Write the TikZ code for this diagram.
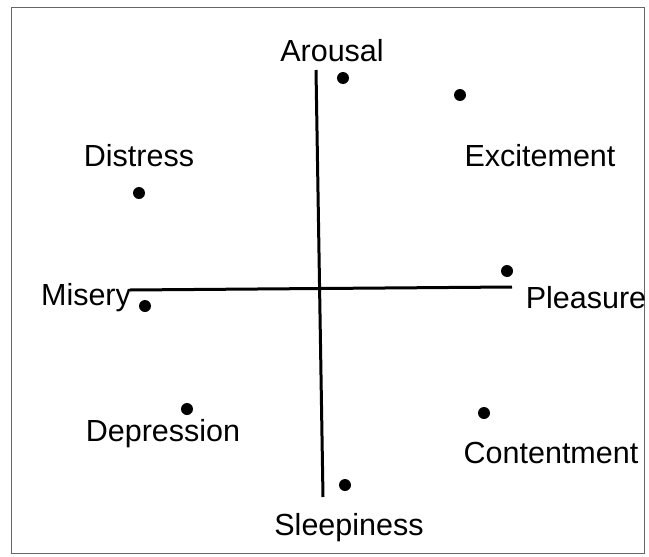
\documentclass[tikz,border=0pt]{standalone}
\usepackage{fontspec}
\setmainfont{Liberation Sans}
\begin{document}
\begin{tikzpicture}[
    x=1pt, y=-1pt,
    every node/.style={font=\fontsize{30.5}{36}\selectfont, inner sep=0pt, anchor=base},
    dot/.style={circle, fill=black, minimum size=12pt, inner sep=0pt, anchor=center},
    axis/.style={line width=3pt}
  ]
  \useasboundingbox (0,0) rectangle (649,557);
  \draw[black!60, line width=1pt] (11,7) rectangle (644,553);
  % axes
  \coordinate (top) at (316,70);
  \coordinate (bottom) at (323,497);
  \coordinate (left) at (130,290);
  \coordinate (right) at (512,287);
  \draw[axis] (top) -- (bottom);
  \draw[axis] (left) -- (right);
  % labels
  \node (arousal) at (332,61) {Arousal};
  \node (distress) at (139,166) {Distress};
  \node (excitement) at (540,166) {Excitement};
  \node (misery) at (86,305) {Misery};
  \node (pleasure) at (586,308) {Pleasure};
  \node (depression) at (163,441) {Depression};
  \node (contentment) at (551,463) {Contentment};
  \node (sleepiness) at (349,535) {Sleepiness};
  % dots
  \node[dot] (d1) at (343,78) {};
  \node[dot] (d2) at (460,95) {};
  \node[dot] (d3) at (139,193) {};
  \node[dot] (d4) at (145,306) {};
  \node[dot] (d5) at (507,271) {};
  \node[dot] (d6) at (187,409) {};
  \node[dot] (d7) at (484,413) {};
  \node[dot] (d8) at (345,485) {};
\end{tikzpicture}
\end{document}
